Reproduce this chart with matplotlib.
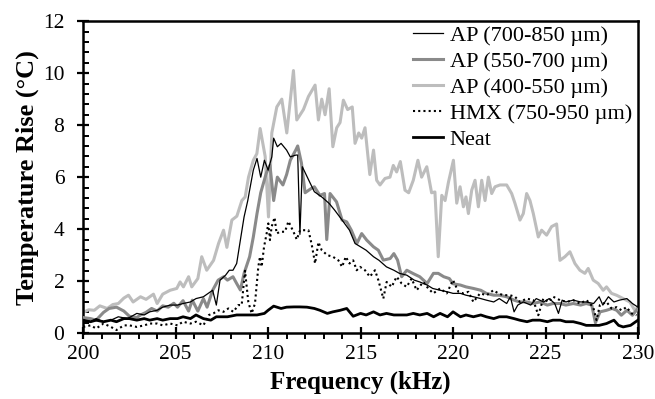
import matplotlib
matplotlib.use("Agg")
import matplotlib.pyplot as plt
from matplotlib.ticker import MultipleLocator

plt.rcParams["font.family"] = ["Liberation Serif", "DejaVu Serif"]

# AP (700-850 um), thin black
f_ap1 = [200.0, 200.4, 200.7, 201.1, 201.5, 201.9, 202.4, 202.9, 203.3, 203.6, 204.0, 204.3,
         204.7, 205.1, 205.4, 205.8, 206.1, 206.5, 206.9, 207.0, 207.2, 207.4, 207.7, 207.9,
         208.1, 208.3, 208.5, 208.7, 208.9, 209.0, 209.2, 209.4, 209.6, 209.8, 210.0, 210.2,
         210.3, 210.5, 210.7, 211.0, 211.2, 211.5, 211.6, 211.72, 211.85, 212.2, 212.5, 212.9,
         213.3, 213.6, 214.0, 214.4, 214.7, 215.0, 215.3, 215.7, 216.0, 216.4, 216.8, 217.1,
         217.5, 217.9, 218.2, 218.6, 218.9, 219.3, 219.7, 220.0, 220.4, 220.7, 221.1, 221.5,
         221.8, 222.2, 222.5, 222.9, 223.1, 223.3, 223.5, 223.8, 224.2, 224.5, 224.9, 225.2,
         225.5, 225.7, 225.9, 226.1, 226.5, 226.9, 227.2, 227.6, 227.9, 228.1, 228.4, 228.7,
         229.0, 229.4, 229.7, 230.0]
t_ap1 = [0.50, 0.44, 0.56, 0.44, 0.50, 0.63, 0.56, 0.76, 0.70, 0.82, 0.88, 1.00,
         1.08, 1.08, 1.14, 1.20, 1.33, 1.40, 1.60, 1.65, 1.08, 2.04, 2.23, 2.42,
         2.42, 2.68, 3.58, 4.47, 5.10, 5.50, 6.27, 6.72, 6.00, 6.65, 6.27, 6.78,
         7.50, 7.17, 7.30, 7.04, 6.78, 6.85, 6.85, 3.80, 6.40, 5.88, 5.44, 5.24,
         4.99, 4.73, 4.35, 3.96, 3.45, 3.32, 3.19, 2.94, 2.80, 2.55, 2.42, 2.30,
         2.23, 2.04, 1.97, 1.85, 1.72, 1.65, 1.59, 1.53, 1.53, 1.46, 1.40, 1.33,
         1.27, 1.20, 1.33, 1.14, 1.40, 0.82, 1.08, 1.20, 1.08, 1.33, 1.20, 1.33,
         1.14, 0.76, 1.27, 1.20, 1.27, 1.20, 1.20, 1.14, 1.40, 1.08, 1.40, 1.20,
         1.27, 1.33, 1.14, 1.00]

# AP (550-700 um), medium grey
f_ap2 = [200.0, 200.4, 200.7, 201.1, 201.4, 201.8, 202.2, 202.5, 202.9, 203.1, 203.4, 203.7,
         204.0, 204.3, 204.6, 204.9, 205.1, 205.4, 205.7, 205.9, 206.2, 206.5, 206.7, 207.0,
         207.3, 207.6, 207.8, 208.1, 208.3, 208.5, 208.7, 209.0, 209.2, 209.4, 209.6, 209.9,
         210.1, 210.3, 210.5, 210.8, 211.0, 211.2, 211.5, 211.6, 211.8, 212.0, 212.3, 212.5,
         212.8, 213.05, 213.17, 213.35, 213.7, 214.0, 214.25, 214.5, 214.8, 215.06, 215.33, 215.7,
         215.96, 216.23, 216.6, 216.8, 217.0, 217.22, 217.5, 217.85, 218.2, 218.6, 218.94, 219.2,
         219.5, 219.8, 220.0, 220.4, 220.7, 221.1, 221.5, 221.8, 222.2, 222.5, 222.9, 223.3,
         223.6, 224.0, 224.3, 224.7, 225.1, 225.4, 225.8, 226.1, 226.5, 226.9, 227.2, 227.5,
         227.7, 227.95, 228.3, 228.6, 228.85, 229.1, 229.4, 229.7, 230.0]
t_ap2 = [0.60, 0.56, 0.50, 0.80, 0.95, 1.00, 0.85, 0.65, 0.60, 0.70, 0.80, 0.95,
         0.85, 1.05, 1.00, 1.15, 1.00, 1.25, 0.85, 1.27, 0.85, 1.33, 1.00, 1.65,
         2.04, 2.17, 2.04, 2.17, 1.91, 1.66, 2.30, 2.94, 3.70, 4.60, 5.40, 6.15,
         6.46, 5.10, 6.00, 5.70, 6.10, 6.65, 7.05, 7.20, 6.55, 5.40, 5.55, 5.63,
         5.30, 5.37, 3.60, 5.37, 5.05, 4.35, 4.28, 3.96, 3.45, 3.83, 3.58, 3.32,
         3.19, 2.81, 2.87, 3.06, 2.81, 2.17, 2.42, 2.29, 2.17, 1.91, 2.30, 2.30,
         2.17, 2.10, 1.90, 1.85, 1.78, 1.72, 1.65, 1.53, 1.46, 1.46, 1.40, 1.27,
         1.20, 1.20, 1.14, 1.20, 1.08, 1.14, 1.14, 1.08, 1.14, 1.08, 1.14, 1.08,
         0.40, 0.82, 0.88, 0.95, 0.88, 0.69, 0.88, 0.69, 0.95]

# AP (400-550 um), light grey
f_ap3 = [200.0, 200.3, 200.6, 200.9, 201.3, 201.6, 201.9, 202.2, 202.45, 202.7, 203.1, 203.4,
         203.8, 204.0, 204.3, 204.7, 205.06, 205.24, 205.42, 205.7, 205.87, 206.2, 206.41, 206.68,
         207.05, 207.32, 207.59, 207.77, 208.04, 208.31, 208.58, 208.76, 208.94, 209.2, 209.39, 209.57,
         209.84, 210.02, 210.2, 210.47, 210.74, 211.01, 211.37, 211.55, 211.91, 212.18, 212.54, 212.72,
         212.9, 213.08, 213.3, 213.5, 213.71, 213.89, 214.07, 214.3, 214.55, 214.7, 214.9, 215.06,
         215.24, 215.5, 215.7, 215.87, 216.05, 216.32, 216.59, 216.77, 216.95, 217.15, 217.4, 217.6,
         217.85, 218.1, 218.3, 218.58, 218.84, 219.02, 219.2, 219.39, 219.57, 219.75, 220.02, 220.2,
         220.38, 220.56, 220.7, 220.83, 221.01, 221.19, 221.37, 221.55, 221.73, 221.91, 222.09, 222.27,
         222.54, 222.9, 223.17, 223.35, 223.62, 223.8, 223.98, 224.16, 224.34, 224.61, 224.79, 225.06,
         225.33, 225.6, 225.78, 226.05, 226.32, 226.59, 226.86, 227.13, 227.31, 227.58, 227.85, 228.12,
         228.3, 228.57, 228.84, 229.2, 229.56, 229.83, 230.0]
t_ap3 = [0.80, 0.90, 0.88, 1.05, 0.95, 1.10, 1.14, 1.35, 1.46, 1.20, 1.40, 1.30,
         1.50, 1.14, 1.50, 1.65, 1.72, 1.97, 1.78, 2.17, 1.78, 2.10, 2.94, 2.42,
         2.80, 3.45, 3.96, 3.30, 4.35, 4.50, 5.10, 5.24, 6.00, 6.65, 6.90, 7.87,
         6.80, 4.47, 7.70, 8.70, 9.00, 7.70, 10.10, 8.20, 8.60, 9.10, 9.54, 8.20,
         9.00, 8.40, 9.40, 7.17, 7.90, 8.10, 8.96, 8.60, 8.70, 7.30, 7.70, 7.50,
         7.90, 6.10, 7.04, 5.88, 5.70, 5.95, 6.00, 6.45, 6.20, 6.60, 5.50, 5.40,
         5.88, 6.65, 6.00, 6.40, 5.40, 5.43, 2.94, 5.30, 5.10, 5.80, 6.65, 5.00,
         5.63, 4.86, 5.24, 4.60, 5.50, 5.88, 4.86, 5.88, 5.10, 6.00, 5.37, 5.63,
         5.70, 5.70, 5.37, 4.99, 4.35, 4.60, 5.37, 5.10, 4.60, 3.70, 3.96, 3.77,
         4.10, 4.20, 2.80, 2.94, 3.13, 2.68, 2.42, 2.30, 2.49, 2.04, 1.91, 1.65,
         1.78, 1.53, 1.46, 1.33, 1.20, 0.88, 1.00]

# HMX (750-950 um), dotted
f_hmx = [200.0, 200.4, 200.7, 201.1, 201.5, 201.8, 202.2, 202.5, 202.9, 203.3, 203.6, 204.0,
         204.3, 204.7, 205.1, 205.4, 205.8, 206.1, 206.5, 206.8, 207.04, 207.31, 207.58, 207.85,
         208.12, 208.39, 208.57, 208.75, 208.93, 209.11, 209.29, 209.47, 209.56, 209.65, 209.78, 209.92,
         210.01, 210.1, 210.19, 210.35, 210.46, 210.64, 210.91, 211.1, 211.37, 211.55, 211.73, 211.91,
         212.18, 212.36, 212.54, 212.72, 212.9, 213.2, 213.5, 213.8, 214.0, 214.2, 214.4, 214.6,
         214.79, 214.97, 215.24, 215.5, 215.78, 215.96, 216.23, 216.41, 216.68, 216.95, 217.22, 217.49,
         217.76, 218.03, 218.39, 218.66, 218.93, 219.3, 219.66, 220.0, 220.29, 220.56, 220.83, 221.1,
         221.46, 221.82, 222.18, 222.45, 222.72, 223.08, 223.35, 223.62, 223.98, 224.34, 224.61, 224.88,
         225.15, 225.42, 225.78, 226.14, 226.5, 226.86, 227.22, 227.58, 227.76, 227.94, 228.3, 228.57,
         228.84, 229.11, 229.38, 229.65, 229.92]
t_hmx = [0.24, 0.30, 0.18, 0.37, 0.24, 0.12, 0.30, 0.30, 0.24, 0.30, 0.37, 0.37,
         0.30, 0.37, 0.30, 0.44, 0.37, 0.44, 0.30, 0.70, 0.76, 0.88, 0.82, 0.95,
         0.82, 1.08, 1.08, 2.40, 1.20, 0.76, 1.14, 2.55, 2.94, 2.55, 3.32, 3.83,
         4.22, 3.58, 4.09, 4.45, 3.83, 3.90, 3.90, 4.30, 3.90, 3.60, 3.96, 3.96,
         3.96, 3.40, 2.68, 3.50, 3.19, 3.00, 2.94, 2.80, 2.55, 2.94, 2.68, 2.80,
         2.42, 2.55, 2.42, 2.17, 2.42, 2.04, 1.33, 1.97, 1.78, 2.17, 1.91, 1.78,
         2.10, 1.65, 1.97, 1.72, 1.53, 1.72, 1.53, 2.04, 1.59, 1.53, 1.59, 1.20,
         1.53, 1.46, 1.65, 1.53, 1.46, 1.46, 1.40, 1.20, 1.33, 1.27, 0.69, 1.33,
         1.20, 1.40, 1.27, 1.20, 1.27, 1.14, 1.27, 1.00, 0.50, 1.08, 1.20, 0.95,
         1.00, 0.88, 1.00, 0.76, 0.69]

# Neat, thick black
f_neat = [200.0, 200.4, 200.7, 201.1, 201.5, 201.8, 202.2, 202.5, 202.9, 203.3, 203.6, 204.0,
          204.3, 204.7, 205.1, 205.4, 205.8, 206.1, 206.5, 206.9, 207.2, 207.8, 208.3, 208.8,
          209.4, 209.8, 210.0, 210.3, 210.7, 211.0, 211.4, 211.7, 212.1, 212.5, 212.8, 213.2,
          213.5, 213.9, 214.25, 214.6, 215.0, 215.3, 215.7, 216.05, 216.4, 216.8, 217.1, 217.5,
          217.85, 218.2, 218.6, 218.95, 219.3, 219.7, 220.0, 220.4, 220.7, 221.1, 221.5, 221.8,
          222.2, 222.5, 222.9, 223.3, 223.6, 224.0, 224.3, 224.7, 225.1, 225.4, 225.8, 226.1,
          226.5, 226.9, 227.2, 227.6, 227.9, 228.3, 228.7, 228.95, 229.2, 229.6, 230.0]
t_neat = [0.50, 0.44, 0.50, 0.44, 0.50, 0.44, 0.56, 0.56, 0.50, 0.56, 0.50, 0.56,
          0.50, 0.56, 0.56, 0.63, 0.56, 0.70, 0.56, 0.50, 0.63, 0.63, 0.70, 0.70,
          0.70, 0.76, 0.88, 1.04, 0.95, 1.00, 1.01, 1.01, 1.00, 0.95, 0.88, 0.76,
          0.82, 0.88, 0.95, 0.65, 0.76, 0.70, 0.82, 0.70, 0.76, 0.70, 0.70, 0.70,
          0.76, 0.70, 0.76, 0.63, 0.76, 0.63, 0.82, 0.63, 0.70, 0.63, 0.70, 0.63,
          0.56, 0.63, 0.63, 0.56, 0.50, 0.44, 0.50, 0.50, 0.44, 0.50, 0.50, 0.44,
          0.44, 0.37, 0.30, 0.30, 0.30, 0.37, 0.50, 0.30, 0.24, 0.30, 0.50]

fig = plt.figure(figsize=(6.55, 3.99), dpi=100)
ax = fig.add_axes([0.127, 0.165, 0.847, 0.782])

ax.plot(f_ap1, t_ap1, color="black", lw=0.9, label="AP (700-850 \u00b5m)", zorder=5)
ax.plot(f_ap2, t_ap2, color="#8a8a8a", lw=2.2, label="AP (550-700 \u00b5m)", zorder=3)
ax.plot(f_ap3, t_ap3, color="#bdbdbd", lw=2.2, label="AP (400-550 \u00b5m)", zorder=2)
ax.plot(f_hmx, t_hmx, color="black", lw=1.5, ls=(0, (1, 1.5)), label="HMX (750-950 \u00b5m)", zorder=4)
ax.plot(f_neat, t_neat, color="black", lw=2.0, label="Neat", zorder=6)

ax.set_xlim(200, 230)
ax.set_ylim(0, 12)
ax.xaxis.set_major_locator(MultipleLocator(5))
ax.xaxis.set_minor_locator(MultipleLocator(1))
ax.yaxis.set_major_locator(MultipleLocator(2))
ax.yaxis.set_minor_locator(MultipleLocator(0.4))
ax.tick_params(axis="x", which="major", direction="inout", length=9, width=1.6, labelsize=15.5, pad=4)
ax.tick_params(axis="x", which="minor", direction="out", length=4.5, width=1.4)
ax.tick_params(axis="y", which="major", direction="inout", length=9, width=1.6, labelsize=15.5, pad=9)
ax.tick_params(axis="y", which="minor", direction="in", length=4.5, width=1.4)
for sp in ax.spines.values():
    sp.set_linewidth(1.8)

ax.set_xlabel("Frequency (kHz)", fontsize=18, fontweight="bold", labelpad=5)
ax.set_ylabel("Temperature Rise (\u00b0C)", fontsize=19, fontweight="bold", labelpad=3)

ax.legend(loc="upper right", frameon=False, fontsize=16, handlelength=1.35,
          handletextpad=0.3, labelspacing=0.24, borderpad=0.1, borderaxespad=0.1,
          bbox_to_anchor=(0.997, 1.0))

fig.savefig("out.png", dpi=100)
